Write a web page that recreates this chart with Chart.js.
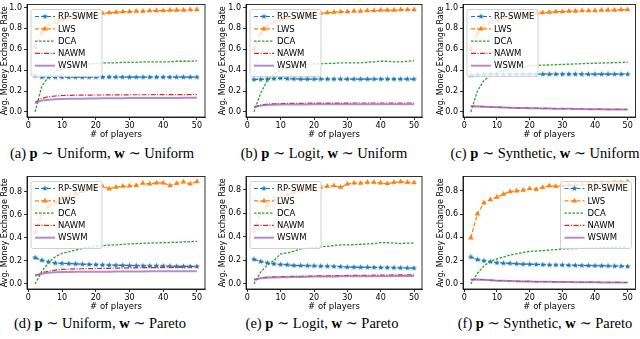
<!DOCTYPE html>
<html>
<head>
<meta charset="utf-8">
<script src="https://cdn.jsdelivr.net/npm/chart.js@4.4.1/dist/chart.umd.min.js"></script>
<style>
  html, body { margin: 0; padding: 0; background: #fff; }
  body { width: 640px; height: 339px; position: relative; overflow: hidden; }
  .panel { position: absolute; }
  .cap {
    position: absolute; transform: translateX(-50%);
    font-family: "Liberation Serif", "DejaVu Serif", serif; font-size: 14.5px;
    color: #000; white-space: nowrap; line-height: 1;
  }
</style>
</head>
<body>
<div class="panel" style="left:0;top:0"><canvas id="ca" width="213" height="140"></canvas></div>
<div class="panel" style="left:218px;top:0"><canvas id="cb" width="213" height="140"></canvas></div>
<div class="panel" style="left:436px;top:0"><canvas id="cc" width="204" height="140"></canvas></div>
<div class="panel" style="left:0;top:172px"><canvas id="cd" width="213" height="140"></canvas></div>
<div class="panel" style="left:218px;top:172px"><canvas id="ce" width="213" height="140"></canvas></div>
<div class="panel" style="left:436px;top:172px"><canvas id="cf" width="204" height="140"></canvas></div>

<div class="cap" style="left:102px;top:146px">(a) <b>p</b> ∼ Uniform, <b>w</b> ∼ Uniform</div>
<div class="cap" style="left:324px;top:146px">(b) <b>p</b> ∼ Logit, <b>w</b> ∼ Uniform</div>
<div class="cap" style="left:545px;top:146px">(c) <b>p</b> ∼ Synthetic, <b>w</b> ∼ Uniform</div>
<div class="cap" style="left:100px;top:316px">(d) <b>p</b> ∼ Uniform, <b>w</b> ∼ Pareto</div>
<div class="cap" style="left:322px;top:316px">(e) <b>p</b> ∼ Logit, <b>w</b> ∼ Pareto</div>
<div class="cap" style="left:545px;top:316px">(f) <b>p</b> ∼ Synthetic, <b>w</b> ∼ Pareto</div>

<script>
// x 값 (플레이어 수)
const players = [2,4,6,8,10,12,14,16,18,20,22,24,26,28,30,32,34,36,38,40,42,44,46,48,50];
const xTicks = [0,10,20,30,40,50];
const yTicksTop = [0,0.2,0.4,0.6,0.8,1.0];
const yTicksBottom = [0,0.2,0.4,0.6,0.8];
const methods = ['RP-SWME','LWS','DCA','NAWM','WSWM'];

// (a) Uniform / Uniform
const rpA   = [0.346,0.333,0.333,0.333,0.333,0.333,0.333,0.332,0.333,0.333,0.333,0.334,0.333,0.333,0.333,0.333,0.333,0.333,0.333,0.333,0.333,0.333,0.333,0.333,0.333];
const lwsA  = [0.62,0.76,0.83,0.86,0.88,0.9,0.91,0.92,0.93,0.94,0.945,0.95,0.955,0.96,0.96,0.965,0.965,0.97,0.97,0.97,0.975,0.975,0.975,0.98,0.98];
const dcaA  = [0,0.246,0.34,0.39,0.41,0.43,0.44,0.45,0.46,0.465,0.47,0.47,0.47,0.475,0.475,0.475,0.48,0.48,0.48,0.48,0.48,0.485,0.485,0.485,0.49];
const nawmA = [0.09,0.13,0.145,0.152,0.157,0.159,0.16,0.161,0.161,0.162,0.162,0.163,0.163,0.163,0.164,0.164,0.164,0.164,0.165,0.165,0.165,0.165,0.165,0.165,0.165];
const wswmA = [0.085,0.11,0.117,0.12,0.123,0.125,0.126,0.127,0.128,0.129,0.13,0.13,0.131,0.131,0.132,0.132,0.133,0.133,0.133,0.134,0.134,0.134,0.135,0.135,0.135];

// (b) Logit / Uniform
const rpB   = [0.31,0.312,0.314,0.318,0.324,0.318,0.316,0.314,0.314,0.314,0.314,0.314,0.314,0.314,0.314,0.314,0.314,0.314,0.314,0.314,0.314,0.314,0.314,0.314,0.314];
const lwsB  = [0.6,0.75,0.82,0.86,0.88,0.9,0.91,0.92,0.93,0.94,0.945,0.95,0.955,0.96,0.96,0.965,0.965,0.97,0.97,0.975,0.975,0.975,0.98,0.98,0.98];
const dcaB  = [0,0.18,0.3,0.36,0.4,0.42,0.435,0.445,0.455,0.46,0.46,0.465,0.465,0.47,0.47,0.47,0.47,0.475,0.48,0.485,0.485,0.48,0.48,0.485,0.49];
const nawmB = [0.045,0.065,0.075,0.078,0.08,0.081,0.082,0.082,0.083,0.083,0.083,0.084,0.084,0.084,0.084,0.085,0.085,0.085,0.085,0.085,0.085,0.085,0.085,0.085,0.085];
const wswmB = [0.045,0.06,0.065,0.068,0.07,0.07,0.071,0.071,0.071,0.072,0.072,0.072,0.072,0.072,0.072,0.072,0.072,0.072,0.072,0.072,0.072,0.072,0.072,0.072,0.072];

// (c) Synthetic / Uniform
const rpC   = [0.35,0.357,0.358,0.36,0.36,0.361,0.361,0.361,0.361,0.361,0.361,0.361,0.361,0.361,0.361,0.361,0.361,0.361,0.361,0.361,0.361,0.361,0.361,0.361,0.361];
const lwsC  = [0.6,0.75,0.82,0.86,0.88,0.9,0.91,0.92,0.93,0.94,0.945,0.95,0.955,0.96,0.96,0.965,0.965,0.97,0.97,0.97,0.975,0.975,0.975,0.98,0.98];
const dcaC  = [0,0.2,0.3,0.35,0.375,0.395,0.41,0.42,0.43,0.44,0.445,0.448,0.45,0.452,0.455,0.457,0.46,0.462,0.464,0.466,0.468,0.47,0.472,0.474,0.476];
const nawmC = [0.056,0.053,0.05,0.047,0.045,0.043,0.041,0.039,0.038,0.036,0.035,0.034,0.033,0.032,0.031,0.03,0.029,0.028,0.027,0.027,0.026,0.025,0.025,0.024,0.023];
const wswmC = [0.055,0.052,0.049,0.046,0.044,0.042,0.04,0.038,0.037,0.035,0.034,0.033,0.032,0.031,0.03,0.029,0.028,0.027,0.026,0.026,0.025,0.024,0.024,0.023,0.022];

// (d) Uniform / Pareto
const rpD   = [0.227,0.204,0.19,0.18,0.177,0.175,0.173,0.17,0.168,0.166,0.164,0.162,0.161,0.16,0.158,0.157,0.156,0.155,0.155,0.154,0.153,0.152,0.151,0.151,0.15];
const lwsD  = [0.45,0.6,0.67,0.71,0.74,0.76,0.78,0.8,0.82,0.84,0.845,0.823,0.837,0.845,0.848,0.851,0.871,0.865,0.874,0.874,0.851,0.87,0.882,0.865,0.885];
const dcaD  = [0,0.108,0.184,0.235,0.264,0.278,0.292,0.306,0.318,0.326,0.331,0.335,0.338,0.342,0.346,0.349,0.351,0.353,0.355,0.357,0.358,0.36,0.363,0.366,0.368];
const nawmD = [0.07,0.096,0.11,0.119,0.125,0.128,0.13,0.131,0.132,0.133,0.134,0.135,0.136,0.137,0.138,0.139,0.14,0.14,0.141,0.142,0.142,0.143,0.144,0.144,0.145];
const wswmD = [0.07,0.088,0.096,0.1,0.102,0.103,0.104,0.104,0.105,0.105,0.106,0.106,0.107,0.107,0.108,0.108,0.108,0.109,0.109,0.109,0.11,0.11,0.11,0.11,0.11];

// (e) Logit / Pareto
const rpE   = [0.209,0.19,0.178,0.17,0.164,0.162,0.156,0.155,0.154,0.153,0.151,0.15,0.148,0.146,0.142,0.142,0.141,0.141,0.14,0.139,0.138,0.137,0.136,0.135,0.134];
const lwsE  = [0.45,0.6,0.67,0.71,0.74,0.76,0.78,0.79,0.8,0.81,0.822,0.83,0.836,0.822,0.85,0.858,0.856,0.864,0.864,0.858,0.853,0.864,0.87,0.864,0.861];
const dcaE  = [0,0.1,0.16,0.2,0.256,0.262,0.279,0.298,0.304,0.309,0.315,0.32,0.326,0.332,0.332,0.334,0.337,0.34,0.343,0.351,0.35,0.348,0.343,0.347,0.346];
const nawmE = [0.036,0.05,0.058,0.06,0.061,0.063,0.064,0.065,0.066,0.067,0.068,0.069,0.07,0.071,0.072,0.072,0.073,0.073,0.074,0.075,0.075,0.076,0.077,0.077,0.078];
const wswmE = [0.036,0.047,0.052,0.054,0.056,0.057,0.058,0.059,0.06,0.062,0.062,0.063,0.063,0.064,0.065,0.065,0.065,0.066,0.066,0.066,0.066,0.067,0.067,0.067,0.067];

// (f) Synthetic / Pareto
const rpF   = [0.231,0.209,0.198,0.19,0.181,0.178,0.176,0.173,0.17,0.169,0.167,0.165,0.162,0.162,0.162,0.16,0.159,0.158,0.157,0.156,0.155,0.154,0.153,0.152,0.15];
const lwsF  = [0.396,0.602,0.697,0.725,0.747,0.772,0.794,0.8,0.806,0.82,0.814,0.83,0.845,0.839,0.845,0.85,0.85,0.855,0.86,0.86,0.865,0.865,0.87,0.87,0.88];
const dcaF  = [0,0.092,0.153,0.195,0.215,0.231,0.248,0.259,0.27,0.279,0.283,0.287,0.291,0.295,0.301,0.302,0.304,0.306,0.307,0.309,0.31,0.312,0.315,0.318,0.32];
const nawmF = [0.037,0.039,0.036,0.032,0.029,0.027,0.025,0.023,0.022,0.021,0.02,0.019,0.019,0.018,0.017,0.017,0.016,0.016,0.015,0.015,0.014,0.014,0.013,0.012,0.012];
const wswmF = [0.036,0.038,0.035,0.031,0.028,0.026,0.024,0.022,0.021,0.02,0.019,0.018,0.018,0.017,0.017,0.016,0.015,0.015,0.014,0.014,0.013,0.013,0.012,0.012,0.011];

Chart.defaults.font.family = '"DejaVu Sans", sans-serif';
Chart.defaults.color = '#000';

// 별 마커 (matplotlib '*' 비슷하게)
function starMarker(color, r) {
  const c = document.createElement('canvas');
  const s = Math.ceil(r * 2 + 2);
  c.width = s; c.height = s;
  const g = c.getContext('2d');
  g.translate(s / 2, s / 2);
  g.beginPath();
  for (let k = 0; k < 10; k++) {
    const rad = k % 2 ? r * 0.42 : r;
    const a = -Math.PI / 2 + k * Math.PI / 5;
    g.lineTo(rad * Math.cos(a), rad * Math.sin(a));
  }
  g.closePath();
  g.fillStyle = color;
  g.fill();
  return c;
}

const styles = [
  {color: '#1f77b4', dash: [4, 2], width: 1.2, marker: starMarker('#1f77b4', 3.2), radius: 3},
  {color: '#ff7f0e', dash: [4, 2], width: 1.2, marker: 'triangle', radius: 2.7},
  {color: '#2ca02c', dash: [2.5, 1.5], width: 1.3, marker: false, radius: 0},
  {color: '#d62728', dash: [5, 1.5, 1, 1.5], width: 1.2, marker: false, radius: 0},
  {color: 'rgba(148,103,189,0.75)', dash: [], width: 2, marker: false, radius: 0}
];

// 바깥 테두리 + 범례 (차트 영역 안쪽)
const frameLegend = {
  id: 'frameLegend',
  afterDraw(chart, args, opts) {
    const {ctx, chartArea} = chart;
    ctx.save();
    ctx.strokeStyle = '#000';
    ctx.lineWidth = 0.8;
    ctx.strokeRect(chartArea.left, chartArea.top, chartArea.right - chartArea.left, chartArea.bottom - chartArea.top);

    const rowH = 12.3, w = 71, h = 67;
    const x0 = opts.corner === 'right' ? chartArea.right - 4 - w : chartArea.left + 4;
    const y0 = chartArea.top + 5;
    ctx.beginPath();
    ctx.roundRect(x0, y0, w, h, 2);
    ctx.fillStyle = 'rgba(255,255,255,0.8)';
    ctx.fill();
    ctx.strokeStyle = '#d0d0d0';
    ctx.lineWidth = 1;
    ctx.stroke();

    chart.data.datasets.forEach((ds, i) => {
      const y = y0 + 7 + i * rowH;
      ctx.setLineDash(ds.borderDash);
      ctx.strokeStyle = ds.borderColor;
      ctx.lineWidth = ds.borderWidth;
      ctx.beginPath();
      ctx.moveTo(x0 + 4, y);
      ctx.lineTo(x0 + 24, y);
      ctx.stroke();
      ctx.setLineDash([]);
      const mk = ds.pointStyle;
      if (ds.pointRadius > 0) {
        if (mk === 'triangle') {
          const r = ds.pointRadius;
          ctx.beginPath();
          ctx.moveTo(x0 + 14, y - r * 1.15);
          ctx.lineTo(x0 + 14 + r, y + r * 0.6);
          ctx.lineTo(x0 + 14 - r, y + r * 0.6);
          ctx.closePath();
          ctx.fillStyle = ds.borderColor;
          ctx.fill();
        } else {
          ctx.drawImage(mk, x0 + 14 - mk.width / 2, y - mk.height / 2);
        }
      }
      ctx.fillStyle = '#000';
      ctx.font = '8.5px "DejaVu Sans"';
      ctx.textBaseline = 'middle';
      ctx.fillText(ds.label, x0 + 27, y + 0.5);
    });
    ctx.restore();
  }
};

const panels = [
  {id: 'ca', series: [rpA, lwsA, dcaA, nawmA, wswmA], yTicks: yTicksTop, yW: 27, padR: 8, corner: 'left'},
  {id: 'cb', series: [rpB, lwsB, dcaB, nawmB, wswmB], yTicks: yTicksTop, yW: 28, padR: 9, corner: 'left'},
  {id: 'cc', series: [rpC, lwsC, dcaC, nawmC, wswmC], yTicks: yTicksTop, yW: 27, padR: 0, corner: 'left'},
  {id: 'cd', series: [rpD, lwsD, dcaD, nawmD, wswmD], yTicks: yTicksBottom, yW: 27, padR: 8, corner: 'left'},
  {id: 'ce', series: [rpE, lwsE, dcaE, nawmE, wswmE], yTicks: yTicksBottom, yW: 28, padR: 9, corner: 'left'},
  {id: 'cf', series: [rpF, lwsF, dcaF, nawmF, wswmF], yTicks: yTicksBottom, yW: 27, padR: 0, corner: 'right'}
];

panels.forEach(p => {
  const all = p.series.flat();
  const lo = Math.min(...all), hi = Math.max(...all);
  const m = (hi - lo) * 0.05;
  const xm = (players[players.length - 1] - players[0]) * 0.05;

  new Chart(document.getElementById(p.id), {
    type: 'line',
    data: {
      datasets: p.series.map((vals, i) => ({
        label: methods[i],
        data: players.map((x, k) => ({x: x, y: vals[k]})),
        borderColor: styles[i].color,
        backgroundColor: styles[i].color,
        borderDash: styles[i].dash,
        borderWidth: styles[i].width,
        pointStyle: styles[i].marker,
        pointRadius: styles[i].radius,
        pointBorderWidth: 0.5,
        pointBackgroundColor: styles[i].color,
        pointBorderColor: styles[i].color,
        tension: 0,
        fill: false,
        order: 4 - i
      }))
    },
    options: {
      responsive: false,
      animation: false,
      events: [],
      layout: {padding: {top: 1, right: p.padR, bottom: 0, left: 0}},
      plugins: {
        legend: {display: false},
        tooltip: {enabled: false},
        frameLegend: {corner: p.corner}
      },
      scales: {
        x: {
          type: 'linear',
          min: players[0] - xm,
          max: players[players.length - 1] + xm,
          afterBuildTicks: s => { s.ticks = xTicks.map(v => ({value: v})); },
          afterFit: s => { s.height = 23; s.paddingLeft = 0; s.paddingRight = 0; },
          grid: {display: true, drawOnChartArea: false, drawTicks: true, tickLength: 3, color: '#000', lineWidth: 0.8},
          border: {display: true, color: '#000', width: 0.8},
          ticks: {font: {size: 8}, padding: 1, maxRotation: 0, autoSkip: false},
          title: {display: true, text: '# of players', font: {size: 8.5}, padding: {top: 1, bottom: 0}}
        },
        y: {
          min: lo - m,
          max: hi + m,
          afterBuildTicks: s => { s.ticks = p.yTicks.map(v => ({value: v})); },
          afterFit: s => { s.width = p.yW; s.paddingTop = 0; s.paddingBottom = 0; },
          grid: {display: true, drawOnChartArea: false, drawTicks: true, tickLength: 3, color: '#000', lineWidth: 0.8},
          border: {display: true, color: '#000', width: 0.8},
          ticks: {font: {size: 8}, padding: 2, autoSkip: false, callback: v => v.toFixed(1)},
          title: {display: true, text: 'Avg. Money Exchange Rate', font: {size: 8}, padding: {top: 0, bottom: 1}}
        }
      }
    },
    plugins: [frameLegend]
  });
});
</script>
</body>
</html>
